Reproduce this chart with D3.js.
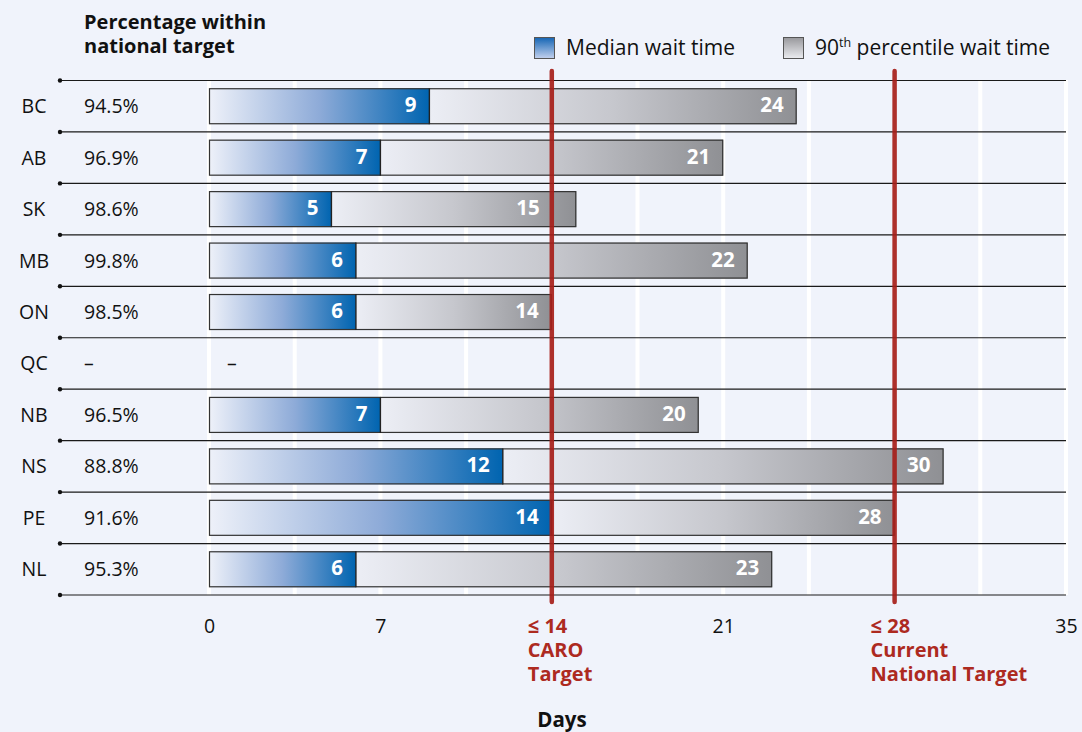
<!DOCTYPE html>
<html>
<head>
<meta charset="utf-8">
<script src="https://cdn.jsdelivr.net/npm/d3@7/dist/d3.min.js"></script>
<style>
  html, body { margin: 0; padding: 0; background: #f0f3fb; }
  svg { display: block; font-family: "Open Sans", Lato, sans-serif; }
</style>
</head>
<body>
<svg id="chart" width="1082" height="732"></svg>
<script>
// Wait times for radiation therapy, by province
const provinces   = ["BC", "AB", "SK", "MB", "ON", "QC", "NB", "NS", "PE", "NL"];
const withinTarget = ["94.5%", "96.9%", "98.6%", "99.8%", "98.5%", "–", "96.5%", "88.8%", "91.6%", "95.3%"];
const medianDays  = [9, 7, 5, 6, 6, null, 7, 12, 14, 6];
const p90Days     = [24, 21, 15, 22, 14, null, 20, 30, 28, 23];
const xTicks      = [0, 7, 21, 35];
const targets     = [
  { days: 14, lines: ["≤ 14", "CARO", "Target"] },
  { days: 28, lines: ["≤ 28", "Current", "National Target"] }
];

const svg = d3.select("#chart");
const x = d3.scaleLinear().domain([0, 35]).range([209, 1066]);
const y = d3.scaleBand().domain(provinces).range([80.5, 595]).paddingInner(0);
const barH = 36;
const barOff = (y.bandwidth() - barH) / 2;
const labelGap = 13;

// gradients
const defs = svg.append("defs");
function grad(id, stops, vertical) {
  const g = defs.append("linearGradient").attr("id", id)
    .attr("x1", 0).attr("y1", 0).attr("x2", vertical ? 0 : 1).attr("y2", vertical ? 1 : 0);
  stops.forEach(([o, c]) => g.append("stop").attr("offset", o).attr("stop-color", c));
}
grad("gMed", [[0, "#eef1f9"], [0.5, "#8eabd8"], [1, "#0064b0"]]);
grad("gP90", [[0, "#eceef5"], [0.5, "#c6c7cd"], [1, "#8f9094"]]);
grad("gMedLeg", [[0, "#1565b4"], [1, "#c3d1ee"]], true);
grad("gP90Leg", [[0, "#98989c"], [1, "#ebecf0"]], true);

// white vertical gridlines every 3.5 days
const gridVals = d3.range(0, 35.01, 3.5);
svg.append("g").selectAll("line").data(gridVals).join("line")
  .attr("x1", d => x(d)).attr("x2", d => x(d))
  .attr("y1", 80).attr("y2", 595)
  .attr("stroke", "#ffffff").attr("stroke-width", 4);

// row separators with dot at left end
const seps = provinces.map(p => y(p)).concat([y.range()[1]]);
const sepG = svg.append("g");
sepG.selectAll("line").data(seps).join("line")
  .attr("x1", 60).attr("x2", 1066)
  .attr("y1", d => d).attr("y2", d => d)
  .attr("stroke", "#1a1a1a").attr("stroke-width", 1.2);
sepG.selectAll("circle").data(seps).join("circle")
  .attr("cx", 60).attr("cy", d => d).attr("r", 2.2).attr("fill", "#111");

// row labels and percentages
const rows = svg.append("g").selectAll("g").data(provinces).join("g")
  .attr("transform", p => `translate(0,${y(p) + y.bandwidth() / 2})`);
rows.append("text").attr("x", 34).attr("y", 7).attr("text-anchor", "middle")
  .attr("font-size", 19.5).attr("fill", "#111").text(p => p);
rows.append("text").attr("x", 84).attr("y", 7)
  .attr("font-size", 19.5).attr("fill", "#111").text((p, i) => withinTarget[i]);

// bars
const data = provinces.map((p, i) => ({ p, med: medianDays[i], p90: p90Days[i] }));
const bars = svg.append("g").selectAll("g").data(data).join("g")
  .attr("transform", d => `translate(0,${y(d.p) + barOff})`);

bars.filter(d => d.med == null).append("text")
  .attr("x", x(0) + 18).attr("y", y.bandwidth() / 2 - barOff + 7)
  .attr("font-size", 19.5).attr("fill", "#111").text("–");

const full = bars.filter(d => d.med != null);
full.append("rect")
  .attr("x", d => x(d.med)).attr("width", d => x(d.p90) - x(d.med))
  .attr("y", 0).attr("height", barH).attr("fill", "url(#gP90)");
full.append("rect")
  .attr("x", x(0)).attr("width", d => x(d.med) - x(0))
  .attr("y", 0).attr("height", barH).attr("fill", "url(#gMed)");
full.append("rect")
  .attr("x", x(0) + 0.5).attr("width", d => x(d.p90) - x(0) - 1)
  .attr("y", 0.5).attr("height", barH - 1)
  .attr("fill", "none").attr("stroke", "#333").attr("stroke-width", 1.2);
full.append("line")
  .attr("x1", d => x(d.med)).attr("x2", d => x(d.med))
  .attr("y1", 0).attr("y2", barH).attr("stroke", "#222").attr("stroke-width", 1.4);

// value labels sit inside the bar end; a label that would sit on a target line moves to its left
function labelX(v) {
  let end = x(v) - labelGap;
  targets.forEach(t => {
    const tx = x(t.days);
    if (end > tx - 6 && end - 26 < tx + 6) end = tx - 12;
  });
  return end;
}
full.append("text")
  .attr("x", d => x(d.med) - labelGap).attr("y", barH / 2 + 6).attr("text-anchor", "end")
  .attr("font-size", 20.5).attr("font-weight", 700).attr("fill", "#fff").text(d => d.med);
full.append("text")
  .attr("x", d => labelX(d.p90)).attr("y", barH / 2 + 6).attr("text-anchor", "end")
  .attr("font-size", 20.5).attr("font-weight", 700).attr("fill", "#fff").text(d => d.p90);

// target lines
svg.append("g").selectAll("line").data(targets).join("line")
  .attr("x1", d => x(d.days)).attr("x2", d => x(d.days))
  .attr("y1", 71).attr("y2", 602)
  .attr("stroke", "#a61e19").attr("stroke-opacity", 0.92)
  .attr("stroke-width", 4.5).attr("stroke-linecap", "round");

// x axis tick labels
const xAxis = d3.axisBottom(x).tickValues(xTicks).tickSize(0).tickPadding(0).tickFormat(d3.format("d"));
const ax = svg.append("g").attr("transform", "translate(0,614)").call(xAxis);
ax.select(".domain").remove();
ax.selectAll("text").attr("font-size", 19.5).attr("fill", "#111")
  .attr("font-family", "'Open Sans', Lato, sans-serif").attr("dy", "0.95em");

// target labels
const tl = svg.append("g").selectAll("text").data(targets).join("text")
  .attr("x", d => x(d.days) - 24).attr("y", 633)
  .attr("font-size", 20).attr("font-weight", 700).attr("fill", "#ad2a1f");
tl.selectAll("tspan").data(d => d.lines).join("tspan")
  .attr("x", function () { return d3.select(this.parentNode).attr("x"); })
  .attr("dy", (d, i) => i === 0 ? 0 : 24).text(d => d);

// axis title
svg.append("text").attr("x", 562).attr("y", 727).attr("text-anchor", "middle")
  .attr("font-size", 20.5).attr("font-weight", 700).attr("fill", "#111").text("Days");

// column header
svg.append("text").attr("x", 84).attr("y", 29)
  .attr("font-size", 20).attr("font-weight", 700).attr("fill", "#111")
  .selectAll("tspan").data(["Percentage within", "national target"]).join("tspan")
  .attr("x", 84).attr("dy", (d, i) => i === 0 ? 0 : 24).text(d => d);

// legend
const legend = [
  { fill: "url(#gMedLeg)", x: 534, label: "Median wait time" },
  { fill: "url(#gP90Leg)", x: 783, label: "90|th| percentile wait time" }
];
const lg = svg.append("g").selectAll("g").data(legend).join("g")
  .attr("transform", d => `translate(${d.x},37)`);
lg.append("rect").attr("x", 0.5).attr("y", 0.5).attr("width", 20).attr("height", 21)
  .attr("fill", d => d.fill).attr("stroke", "#555").attr("stroke-width", 1);
const lt = lg.append("text").attr("x", 32).attr("y", 18).attr("font-size", 21).attr("fill", "#111");
lt.each(function (d) {
  const parts = d.label.split("|");
  const t = d3.select(this);
  t.append("tspan").text(parts[0]);
  if (parts.length > 1) {
    t.append("tspan").attr("font-size", 12.5).attr("dy", -8).text(parts[1]);
    t.append("tspan").attr("dy", 8).text(parts[2]);
  }
});
</script>
</body>
</html>
